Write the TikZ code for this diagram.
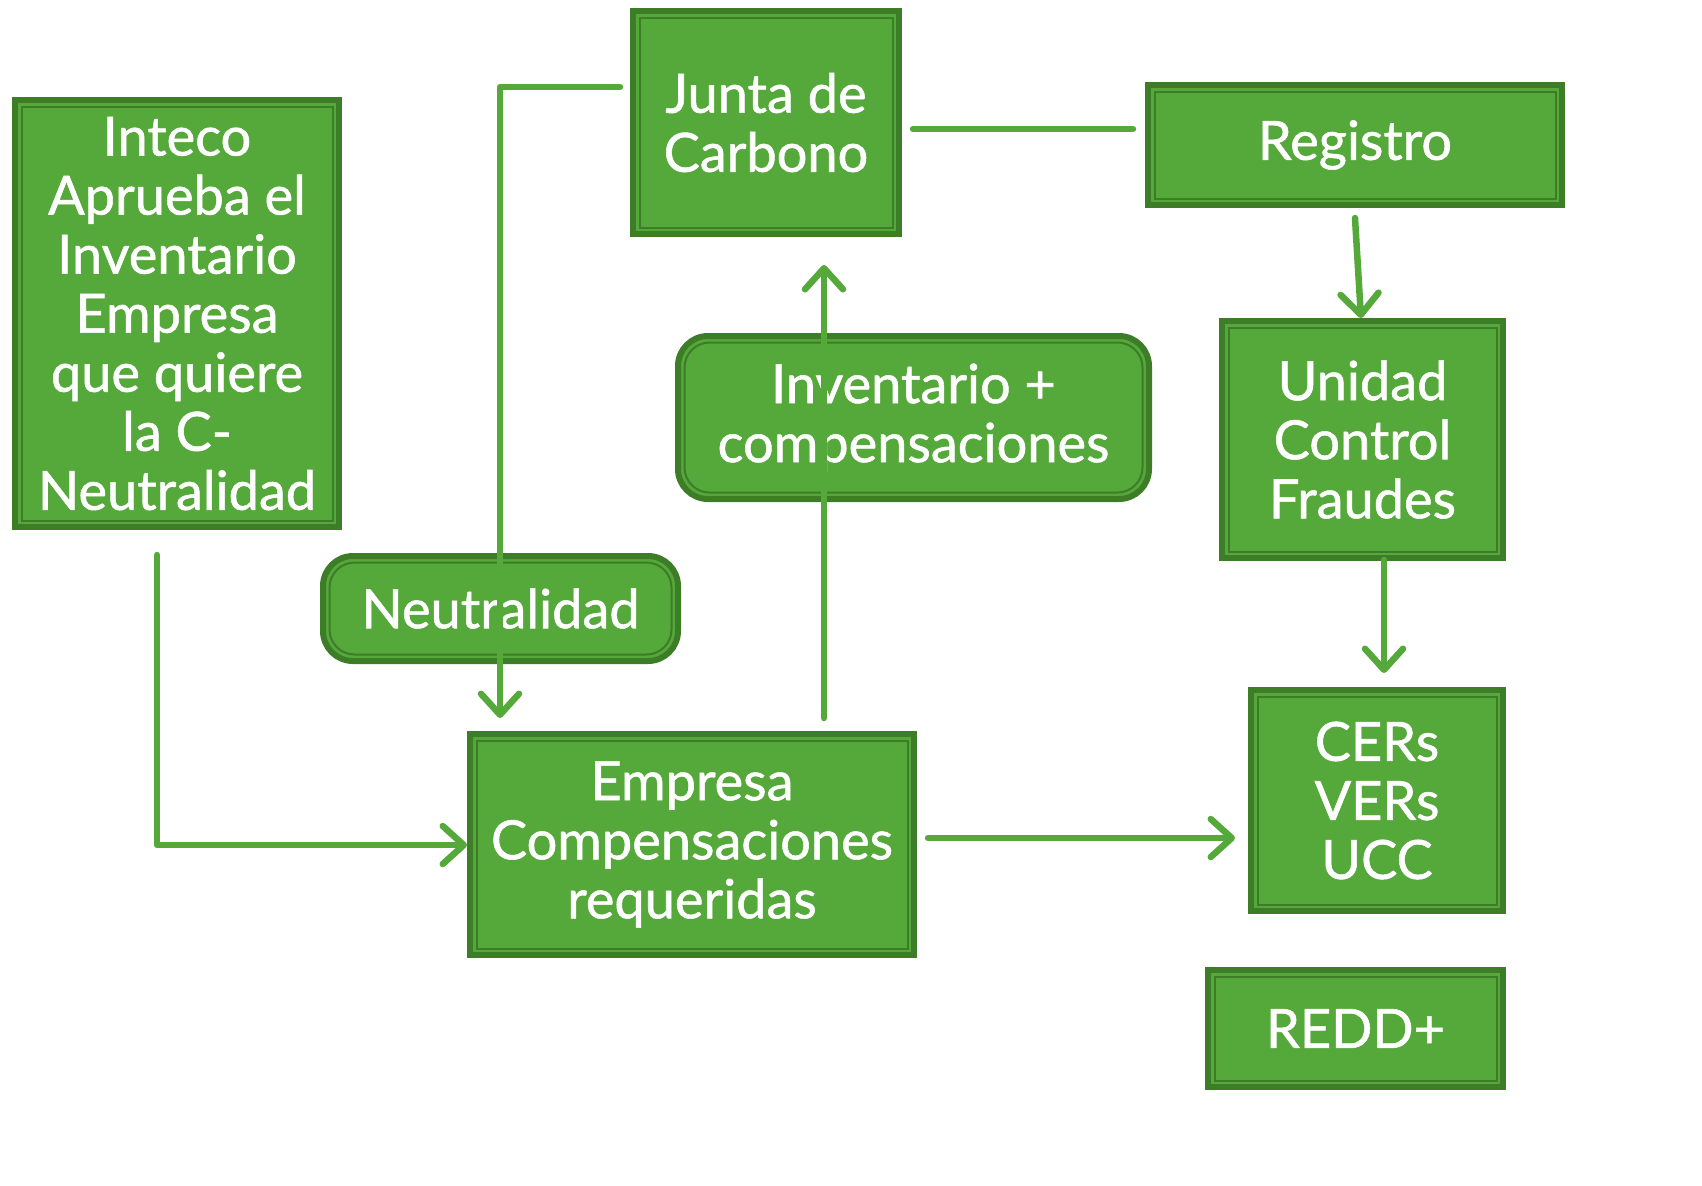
\documentclass[tikz,border=0pt]{standalone}
\usepackage{fontspec}
\setmainfont{Lato}[UprightFeatures={FakeBold=1}]
\usetikzlibrary{arrows.meta}
\definecolor{ltgreen}{RGB}{85,168,58}
\definecolor{dkgreen}{RGB}{61,125,40}
\tikzset{empty/.style={draw=none, fill=none, minimum size=0mm, inner sep=0mm}}
\tikzset{block/.style={draw=dkgreen, fill=ltgreen, line width=0.06cm, text=white, align=center,
    inner sep=0pt, font=\fontsize{15.4}{16.8}\selectfont,
    path picture={\draw[dkgreen, line width=0.02cm]
      ([shift={(0.065cm,-0.065cm)}]path picture bounding box.north west) rectangle
      ([shift={(-0.065cm,0.065cm)}]path picture bounding box.south east);}},
  rblock/.style={block, rounded corners=0.3cm,
    path picture={\draw[dkgreen, line width=0.02cm, rounded corners=0.25cm]
      ([shift={(0.065cm,-0.065cm)}]path picture bounding box.north west) rectangle
      ([shift={(-0.065cm,0.065cm)}]path picture bounding box.south east);}},
  link/.style={draw=ltgreen, line width=0.065cm, line cap=round, line join=round},
  arrow/.style={link, -{Straight Barb[length=0.21cm, width=0.38cm, round]}}}

\begin{document}
\begin{tikzpicture}
  \useasboundingbox (0cm, 0cm) rectangle (17.02cm, -11.85cm);

  \node (inteco) [block, minimum width=3.24cm, minimum height=4.27cm] at (1.77cm, -3.135cm)
    {Inteco\\Aprueba el\\Inventario\\Empresa\\que quiere\\la C-\\Neutralidad};
  \node (junta) [block, minimum width=2.66cm, minimum height=2.23cm] at (7.66cm, -1.225cm) {Junta de\\Carbono};
  \node (registro) [block, minimum width=4.14cm, minimum height=1.20cm] at (13.55cm, -1.45cm) {Registro};
  \node (unidad) [block, minimum width=2.81cm, minimum height=2.37cm] at (13.625cm, -4.395cm) {Unidad\\Control\\Fraudes};
  \node (cers) [block, minimum width=2.52cm, minimum height=2.21cm] at (13.77cm, -8.005cm) {CERs\\VERs\\UCC};
  \node (redd) [block, minimum width=2.95cm, minimum height=1.17cm] at (13.555cm, -10.285cm) {REDD+};
  \node (empresa) [block, minimum width=4.44cm, minimum height=2.21cm] at (6.92cm, -8.445cm) {Empresa\\Compensaciones\\requeridas};
  \node (invent) [rblock, minimum width=4.71cm, minimum height=1.63cm] at (9.135cm, -4.175cm) {Inventario +\\compensaciones};
  \node (neutral) [rblock, minimum width=3.55cm, minimum height=1.05cm] at (5.005cm, -6.085cm) {Neutralidad};

  \node (j0) [empty] at (6.20cm, -0.87cm) {};
  \node (j1) [empty] at (5.00cm, -0.87cm) {};
  \node (j2) [empty] at (5.00cm, -7.18cm) {};
  \node (i0) [empty] at (8.24cm, -7.18cm) {};
  \node (i1) [empty] at (8.24cm, -2.65cm) {};
  \node (n0) [empty] at (1.57cm, -5.55cm) {};
  \node (n1) [empty] at (1.57cm, -8.45cm) {};
  \node (n2) [empty] at (4.67cm, -8.45cm) {};
  \node (r0) [empty] at (9.13cm, -1.29cm) {};
  \node (r1) [empty] at (11.33cm, -1.29cm) {};
  \node (u0) [empty] at (13.55cm, -2.18cm) {};
  \node (u1) [empty] at (13.61cm, -3.18cm) {};
  \node (c0) [empty] at (13.84cm, -5.60cm) {};
  \node (c1) [empty] at (13.84cm, -6.73cm) {};
  \node (e0) [empty] at (9.28cm, -8.38cm) {};
  \node (e1) [empty] at (12.35cm, -8.38cm) {};

  \draw [arrow] (j0.center) -- (j1.center) -- (j2.center);
  \draw [arrow] (i0.center) -- (i1.center);
  \draw [arrow] (n0.center) -- (n1.center) -- (n2.center);
  \draw [link] (r0.center) -- (r1.center);
  \draw [arrow] (u0.center) -- (u1.center);
  \draw [arrow] (c0.center) -- (c1.center);
  \draw [arrow] (e0.center) -- (e1.center);
\end{tikzpicture}
\end{document}
